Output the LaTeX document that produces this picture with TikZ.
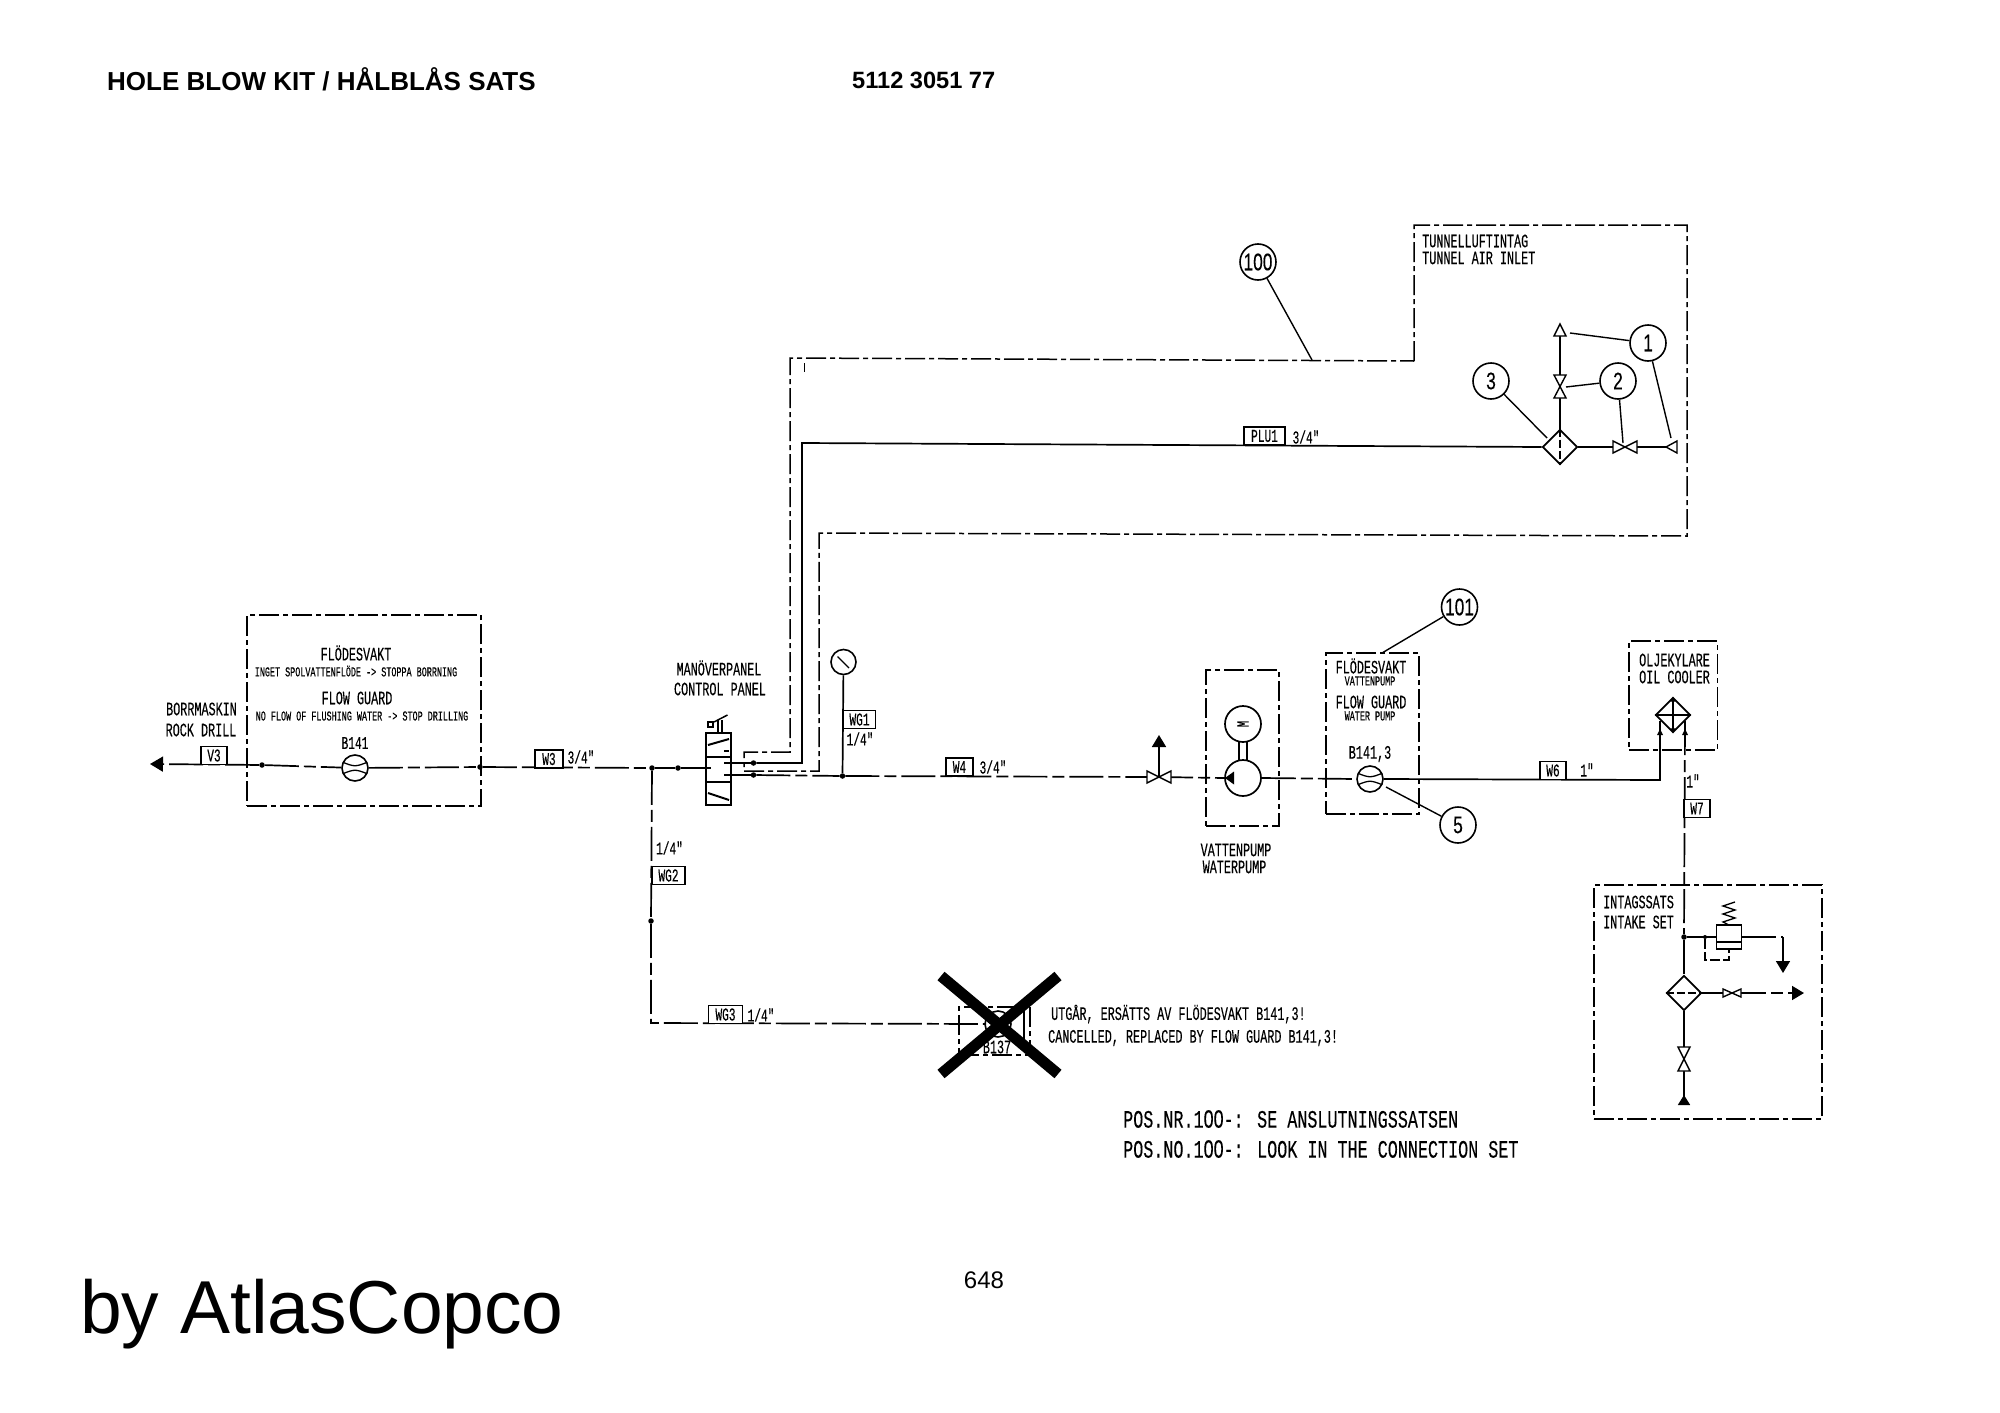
\documentclass[tikz,border=0pt]{standalone}
\usepackage{fontspec}
\setmainfont{Liberation Sans}
\newfontfamily\plotfont[FakeStretch=0.62,FakeBold=0.3]{Liberation Mono}
\newfontfamily\plotwide[FakeStretch=0.67,FakeBold=0.2]{Liberation Mono}
\newfontfamily\plotnum[FakeStretch=0.72,FakeBold=0.2]{Liberation Sans}
\usepackage{tikz}
\usetikzlibrary{arrows.meta, positioning, shapes.geometric}

\tikzset{
  lbl/.style={inner sep=0pt, font=\plotfont\fontsize{19}{19}\selectfont},
  lblmid/.style={inner sep=0pt, font=\plotfont\fontsize{18}{18}\selectfont},
  lblsm/.style={inner sep=0pt, font=\plotfont\fontsize{13.6}{13.6}\selectfont},
  lblpos/.style={inner sep=0pt, anchor=west, font=\plotwide\fontsize{25}{25}\selectfont},
  tagbox/.style={draw, line width=1.4pt, fill=white, inner sep=0pt, minimum height=18pt,
    font=\plotfont\fontsize{18}{18}\selectfont},
  balloon/.style={circle, draw, line width=1.6pt, fill=white, inner sep=0pt, minimum size=36pt,
    font=\plotnum\fontsize{24}{24}\selectfont},
  jointdot/.style={circle, fill=black, inner sep=0pt, minimum size=5.5pt},
  pipe/.style={line width=1.7pt},
  brokenpipe/.style={line width=1.7pt, dash pattern=on 34pt off 5pt on 12pt off 5pt},
  kitline/.style={line width=1.5pt, dash pattern=on 20pt off 4pt on 5pt off 4pt},
  kitbox/.style={draw, kitline, inner sep=0pt},
  leader/.style={line width=1.4pt},
  bowtie/.style={line width=1.4pt, fill=white},
  flowmeter/.style={circle, draw, line width=1.6pt, fill=white, inner sep=0pt, minimum size=26pt,
    path picture={
      \draw[line width=1.3pt] ([shift={(-13,-6)}]path picture bounding box.center) .. controls
        ([shift={(0,-1)}]path picture bounding box.center) .. ([shift={(13,-6)}]path picture bounding box.center);
      \draw[line width=1.3pt] ([shift={(-13,6)}]path picture bounding box.center) .. controls
        ([shift={(0,1)}]path picture bounding box.center) .. ([shift={(13,6)}]path picture bounding box.center);
    }},
  filterbox/.style={diamond, draw, line width=1.7pt, fill=white, inner sep=0pt, minimum size=35pt},
  solidtip/.style={-{Triangle[length=12pt,width=14pt]}},
}

\begin{document}
\begin{tikzpicture}[x=1pt, y=-1pt]
\useasboundingbox (0,0) rectangle (2000,1413);

% page texts
\node[anchor=west, inner sep=0pt, font=\bfseries\fontsize{26}{26}\selectfont] (title) at (107,79.5) {HOLE BLOW KIT / HÅLBLÅS SATS};
\node[anchor=west, inner sep=0pt, font=\bfseries\fontsize{23.6}{24}\selectfont] (partno) at (852,80) {5112 3051 77};
\node[inner sep=0pt, font=\fontsize{24}{24}\selectfont] (pageno) at (984,1280) {648};
\node[anchor=west, inner sep=0pt, font=\fontsize{75}{75}\selectfont] (brand) at (80,1314) {by AtlasCopco};

% boxes
\node[kitbox, minimum width=234pt, minimum height=191pt] (guardA) at (364,710.5) {};
\node[kitbox, minimum width=73pt, minimum height=156pt] (pumpbox) at (1242.5,748) {};
\node[kitbox, minimum width=93pt, minimum height=161pt] (guardB) at (1372.5,733.5) {};
\node[kitbox, minimum width=88.5pt, minimum height=109pt] (coolerbox) at (1673,695.5) {};
\node[kitbox, minimum width=228pt, minimum height=234pt] (intakebox) at (1708,1002) {};
\node[kitbox, minimum width=71pt, minimum height=48pt] (oldbox) at (994.5,1031) {};

% kit outline
\draw[kitline] (1414,361) -- (1414,225) -- (1687,225) -- (1687,536) -- (819,533) -- (819,771)
  -- (744,771) -- (744,752) -- (790,752) -- (790,358) -- cycle;
\draw[line width=1.2pt] (804.5,363) -- (804.5,372);

% free ends
\coordinate (drill) at (150,764);
\coordinate (vW) at (1159,777);
\coordinate (vUp) at (1159,735);
\coordinate (bendA) at (802,763);
\coordinate (bendB) at (802,443);
\coordinate (bendC) at (1660,780);
\coordinate (bendD) at (1660,721);
\coordinate (coolerR) at (1685,721);
\coordinate (cornerG) at (651,1023);
\coordinate (oldend) at (986,1024);
\coordinate (vAir) at (1560,387);
\coordinate (tipAir) at (1560,336);
\coordinate (vAirB) at (1625,447);
\coordinate (tipAirB) at (1666,447);
\coordinate (portA) at (731,763);
\coordinate (portB) at (731,775);
\coordinate (portC) at (706,768);
\coordinate (vDrain) at (1732,993);
\coordinate (tipOut) at (1804,993);
\coordinate (vIn) at (1684,1058);
\coordinate (tipIn) at (1684,1105);
\coordinate (reliefA) at (1783,937);
\coordinate (reliefB) at (1783,973);
\coordinate (pilotA) at (1705,960);
\coordinate (pilotB) at (1729,960);

% joints
\node[jointdot] (dotA) at (262,765) {};
\node[jointdot] (dotB) at (480,767) {};
\node[jointdot] (teeG) at (652,768) {};
\node[jointdot] (dotC) at (678,768) {};
\node[jointdot] (dotD) at (753.5,763) {};
\node[jointdot] (dotE) at (753.5,775) {};
\node[jointdot] (teeH) at (842.5,776) {};
\node[jointdot] (teeJ) at (651,921) {};
\node[jointdot] (teeK) at (1684,937) {};
\node[jointdot, minimum size=4pt] (teeL) at (1705,937) {};

% symbols
\node[flowmeter] (meterA) at (355,768) {};
\node[flowmeter] (meterB) at (1370,779) {};
\node[flowmeter] (meterC) at (998,1024) {};
\node[filterbox] (filterA) at (1560,447) {};
\node[filterbox] (filterB) at (1684,993) {};
\node[filterbox] (cooler) at (1673,715) {};
\node[circle, draw, line width=1.6pt, inner sep=0pt, minimum size=25pt] (gauge) at (843.5,662) {};
\node[circle, draw, line width=1.7pt, fill=white, inner sep=0pt, minimum size=36pt] (motor) at (1243,724) {};
\node[circle, draw, line width=1.7pt, fill=white, inner sep=0pt, minimum size=36pt] (pump) at (1243,778) {};
\node[draw, line width=1.7pt, fill=white, inner sep=0pt, minimum width=25pt, minimum height=72pt] (panel) at (718.5,769) {};
\node[draw, line width=1.5pt, fill=white, inner sep=0pt, minimum width=25pt, minimum height=24pt] (relief) at (1729,937) {};

% pipes
\draw[brokenpipe, -{Triangle[length=13pt,width=15pt]}] (dotA) -- (drill);
\draw[brokenpipe] (dotA) -- (meterA);
\draw[brokenpipe] (meterA) -- (dotB);
\draw[brokenpipe] (dotB) -- (teeG);
\draw[pipe] (teeG) -- (dotC);
\draw[brokenpipe] (dotC) -- (portC);
\draw[brokenpipe] (teeG) -- (teeJ);
\draw[brokenpipe] (teeJ) -- (cornerG) -- (oldend);
\draw[pipe] (portA) -- (dotD);
\draw[pipe] (dotD) -- (bendA) -- (bendB) -- (filterA.west);
\draw[brokenpipe] (portB) -- (dotE);
\draw[brokenpipe] (dotE) -- (teeH);
\draw[brokenpipe] (teeH) -- (vW);
\draw[pipe] (gauge) -- (teeH);
\draw[pipe, solidtip] (vW) -- (vUp);
\draw[brokenpipe] (vW) -- (pump.west);
\draw[brokenpipe] (pump.east) -- (meterB.west);
\draw[pipe] (meterB.east) -- (bendC) -- (bendD);
\draw[brokenpipe] (coolerR) -- (teeK);
\draw[brokenpipe] (teeK) -- (filterB.north);
\draw[pipe] (filterB.south) -- (vIn);
\draw[pipe, -{Triangle[reversed,length=10pt,width=12pt]}] (vIn) -- (tipIn);
\draw[brokenpipe] (filterB.east) -- (vDrain);
\draw[brokenpipe, solidtip] (vDrain) -- (tipOut);
\draw[pipe] (teeK) -- (relief.west);
\draw[brokenpipe] (relief.east) -- (reliefA);
\draw[pipe, solidtip] (reliefA) -- (reliefB);
\draw[line width=1.4pt, dash pattern=on 10pt off 3pt] (teeL) -- (pilotA) -- (pilotB) -- (relief.south);
\draw[pipe] (filterA.north) -- (vAir);
\draw[pipe] (vAir) -- (tipAir);
\draw[pipe] (filterA.east) -- (vAirB);
\draw[pipe] (vAirB) -- (tipAirB);

% valves and open ends
\draw[bowtie] (1147,771) -- (1171,783) -- (1171,771) -- (1147,783) -- cycle;
\draw[bowtie] (1554,375) -- (1566,398) -- (1554,398) -- (1566,375) -- cycle;
\draw[bowtie] (1613,441) -- (1637,453) -- (1637,441) -- (1613,453) -- cycle;
\draw[bowtie] (1723,989) -- (1741,997) -- (1741,989) -- (1723,997) -- cycle;
\draw[bowtie] (1678,1047) -- (1690,1071) -- (1678,1071) -- (1690,1047) -- cycle;
\draw[bowtie] (1560,324) -- (1554,336) -- (1566,336) -- cycle;
\draw[bowtie] (1666,447) -- (1677,441) -- (1677,453) -- cycle;

% inside the symbols
\draw[line width=1.3pt] (837.5,656.5) -- (849,668);
\draw[line width=1.5pt] (1239,741) -- (1239,760);
\draw[line width=1.5pt] (1247,741) -- (1247,760);
\fill (1225,778) -- (1234,771.5) -- (1234,784.5) -- cycle;
\node[inner sep=0pt, rotate=90, font=\plotfont\fontsize{17}{17}\selectfont] (motorM) at (1243,724) {M};
\draw[line width=1.3pt, dash pattern=on 8pt off 3pt] (filterA.north) -- (filterA.south);
\draw[line width=1.3pt, dash pattern=on 8pt off 3pt] (filterB.west) -- (filterB.east);
\draw[line width=1.3pt, {Triangle[length=5pt,width=5pt]}-{Triangle[length=5pt,width=5pt]}] (cooler.north) -- (cooler.south);
\draw[line width=1.3pt] (cooler.west) -- (cooler.east);
\fill (1660,729) -- (1657,735) -- (1663,735) -- cycle;
\fill (1685,729) -- (1682,735) -- (1688,735) -- cycle;
\draw[line width=1.3pt] (706,757) -- (731,757);
\draw[line width=1.3pt] (706,782) -- (731,782);
\draw[line width=2pt] (708,745) -- (729,739);
\draw[line width=2pt] (708,793) -- (729,800);
\draw[line width=1.2pt] (724,751) -- (729,751);
\draw[line width=1.2pt] (724,763) -- (731,763);
\draw[line width=1.2pt] (724,775) -- (731,775);
\draw[line width=1.2pt] (706,768) -- (711,768);
\draw[line width=1.5pt] (708,722) rectangle (713,727);
\draw[line width=1.5pt] (714,722) -- (727.5,715);
\draw[line width=1.3pt] (718,720) -- (718,733);
\draw[line width=1.3pt] (722,720) -- (722,733);
\draw[line width=1.6pt] (1717,942) -- (1741,942);
\draw[line width=1.3pt] (1729,925) -- (1723,922) -- (1735,918) -- (1723,914) -- (1735,910) -- (1723,906) -- (1735,902);
\draw[line width=1.3pt] (1024,1007) -- (1024,1047);

% tags
\node[tagbox, minimum width=26pt] (tagV3) at (214,755.5) {V3};
\node[tagbox, minimum width=28pt] (tagW3) at (549,759) {W3};
\node[tagbox, minimum width=32pt] (tagWG1) at (859.5,719.5) {WG1};
\node[tagbox, minimum width=27pt] (tagW4) at (959.5,767) {W4};
\node[tagbox, minimum width=33pt] (tagWG2) at (668.5,875.5) {WG2};
\node[tagbox, minimum width=34pt] (tagWG3) at (725.5,1014.5) {WG3};
\node[tagbox, minimum width=41pt] (tagPLU) at (1264.5,436) {PLU1};
\node[tagbox, minimum width=26pt] (tagW6) at (1553,770.5) {W6};
\node[tagbox, minimum width=26pt] (tagW7) at (1697,808.5) {W7};

% sizes
\node[lblmid] (sizeW3) at (581,757) {3/4"};
\node[lblmid] (sizeWG1) at (860,739) {1/4"};
\node[lblmid] (sizeW4) at (993,767) {3/4"};
\node[lblmid] (sizeWG2) at (669.5,848) {1/4"};
\node[lblmid] (sizeWG3) at (761,1015) {1/4"};
\node[lblmid] (sizePLU) at (1306,437) {3/4"};
\node[lblmid] (sizeW6) at (1587,770) {1"};
\node[lblmid] (sizeW7) at (1693,781) {1"};

% texts
\node[lbl] (guardAa) at (356,653) {FLÖDESVAKT};
\node[lblsm] (guardAb) at (356,671) {INGET SPOLVATTENFLÖDE -> STOPPA BORRNING};
\node[lbl] (guardAc) at (357,698) {FLOW GUARD};
\node[lblsm] (guardAd) at (362,716) {NO FLOW OF FLUSHING WATER -> STOP DRILLING};
\node[lblmid] (guardAe) at (355,743) {B141};
\node[lbl] (drillA) at (201.5,709) {BORRMASKIN};
\node[lbl] (drillB) at (201,730) {ROCK DRILL};
\node[lbl] (panelA) at (719,668) {MANÖVERPANEL};
\node[lbl] (panelB) at (720,689) {CONTROL PANEL};
\node[lbl] (pumpA) at (1236,850) {VATTENPUMP};
\node[lbl] (pumpB) at (1234.5,867) {WATERPUMP};
\node[lbl] (guardBa) at (1371,666) {FLÖDESVAKT};
\node[lblsm] (guardBb) at (1370,681) {VATTENPUMP};
\node[lbl] (guardBc) at (1371,702) {FLOW GUARD};
\node[lblsm] (guardBd) at (1370,716) {WATER PUMP};
\node[lbl] (guardBe) at (1370,754) {B141,3};
\node[lbl] (coolerA) at (1674.5,660) {OLJEKYLARE};
\node[lbl] (coolerB) at (1674.5,677) {OIL COOLER};
\node[lbl, anchor=west] (tunnelA) at (1422,241) {TUNNELLUFTINTAG};
\node[lbl, anchor=west] (tunnelB) at (1422,258) {TUNNEL AIR INLET};
\node[lbl, anchor=west] (intakeA) at (1603,902) {INTAGSSATS};
\node[lbl, anchor=west] (intakeB) at (1603,922) {INTAKE SET};
\node[lbl] (oldid) at (997,1047) {B137};
\node[lbl, anchor=west] (noteA) at (1051,1014) {UTGÅR, ERSÄTTS AV FLÖDESVAKT B141,3!};
\node[lbl, anchor=west] (noteB) at (1048,1038) {CANCELLED, REPLACED BY FLOW GUARD B141,3!};
\node[lblpos] (posA) at (1123,1119) {POS.NR.1{\plotnum 00}-: SE ANSLUTNINGSSATSEN};
\node[lblpos] (posB) at (1123,1149) {POS.NO.1{\plotnum 00}-: LOOK IN THE CONNECTION SET};

% balloons
\node[balloon] (n100) at (1258,262) {100};
\node[balloon] (n101) at (1459.5,607) {101};
\node[balloon] (n5) at (1458,825) {5};
\node[balloon] (n1) at (1648,343) {1};
\node[balloon] (n2) at (1618,381) {2};
\node[balloon] (n3) at (1491,381) {3};
\coordinate (end100) at (1312,360);
\coordinate (end101) at (1382,653);
\coordinate (end5) at (1386,787);
\coordinate (end1a) at (1570,333);
\coordinate (end1b) at (1671,438);
\coordinate (end2a) at (1566,387);
\coordinate (end2b) at (1623,443);
\coordinate (end3) at (1547,438);
\draw[leader] (n100) -- (end100);
\draw[leader] (n101) -- (end101);
\draw[leader] (n5) -- (end5);
\draw[leader] (n1) -- (end1a);
\draw[leader] (n1) -- (end1b);
\draw[leader] (n2) -- (end2a);
\draw[leader] (n2) -- (end2b);
\draw[leader] (n3) -- (end3);

% cancelled mark
\coordinate (crossA) at (941,976);
\coordinate (crossB) at (1058,1074);
\coordinate (crossC) at (1058,976);
\coordinate (crossD) at (941,1074);
\draw[line width=11pt] (crossA) -- (crossB);
\draw[line width=11pt] (crossC) -- (crossD);

\end{tikzpicture}
\end{document}
